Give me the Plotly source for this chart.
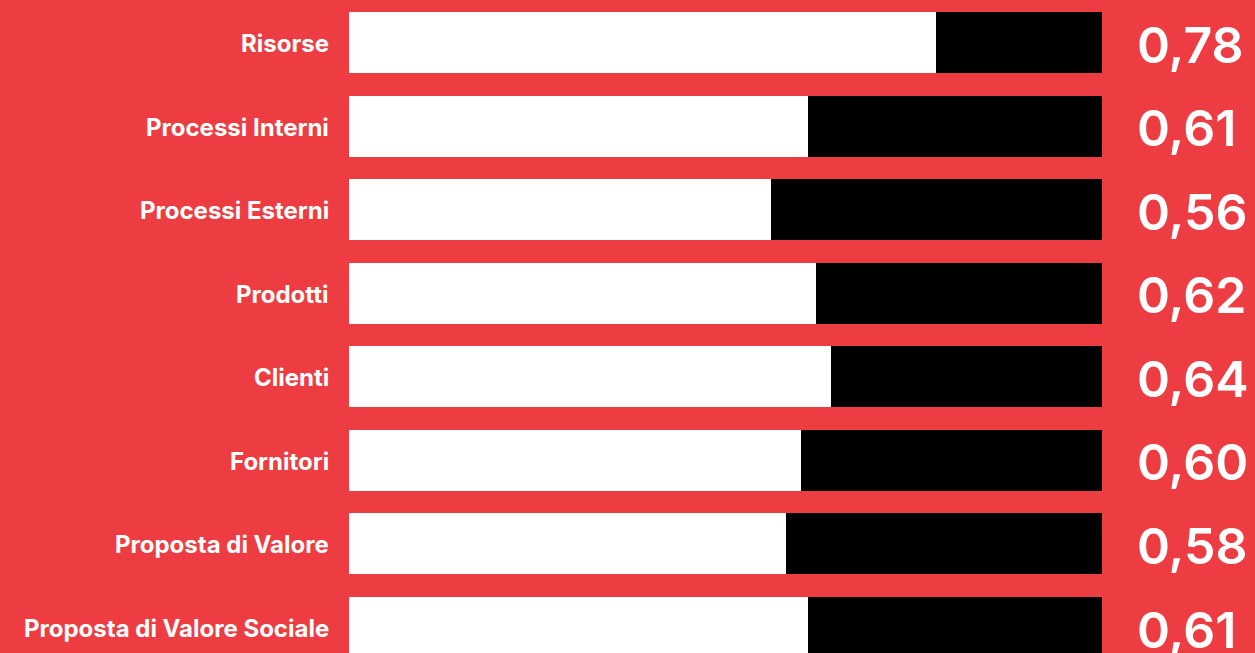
import plotly.graph_objects as go

categories = ["Risorse", "Processi Interni", "Processi Esterni", "Prodotti",
              "Clienti", "Fornitori", "Proposta di Valore", "Proposta di Valore Sociale"]
values = [0.78, 0.61, 0.56, 0.62, 0.64, 0.60, 0.58, 0.61]
remainder = [round(1 - v, 2) for v in values]
value_labels = [f"{v:.2f}".replace(".", ",") for v in values]

RED = "#EE3D42"
pos = list(range(len(categories)))

fig = go.Figure()
fig.add_trace(go.Bar(y=pos, x=values, orientation="h", marker=dict(color="white", line=dict(width=0)),
                     width=0.73, hoverinfo="skip"))
fig.add_trace(go.Bar(y=pos, x=remainder, orientation="h", marker=dict(color="black", line=dict(width=0)),
                     width=0.73, hoverinfo="skip"))

for p, c, vl in zip(pos, categories, value_labels):
    fig.add_annotation(x=0, y=p, xref="x", yref="y", text=c, showarrow=False,
                       xanchor="right", yanchor="middle", xshift=-18, yshift=-1,
                       font=dict(family="Inter", size=24, color="white", weight="bold"))
    fig.add_annotation(x=1, y=p, xref="x", yref="y", text=vl, showarrow=False,
                       xanchor="left", yanchor="middle", xshift=33, yshift=-2,
                       font=dict(family="Inter", size=50, color="white", weight=600))

fig.update_layout(
    barmode="stack",
    width=1255, height=653,
    margin=dict(l=349, r=153, t=0, b=0),
    paper_bgcolor=RED, plot_bgcolor=RED,
    showlegend=False,
    xaxis=dict(range=[0, 1], visible=False, fixedrange=True),
    yaxis=dict(range=[7.305, -0.5086], visible=False, fixedrange=True),
)
fig.write_html("out.html", config={"displayModeBar": False})
